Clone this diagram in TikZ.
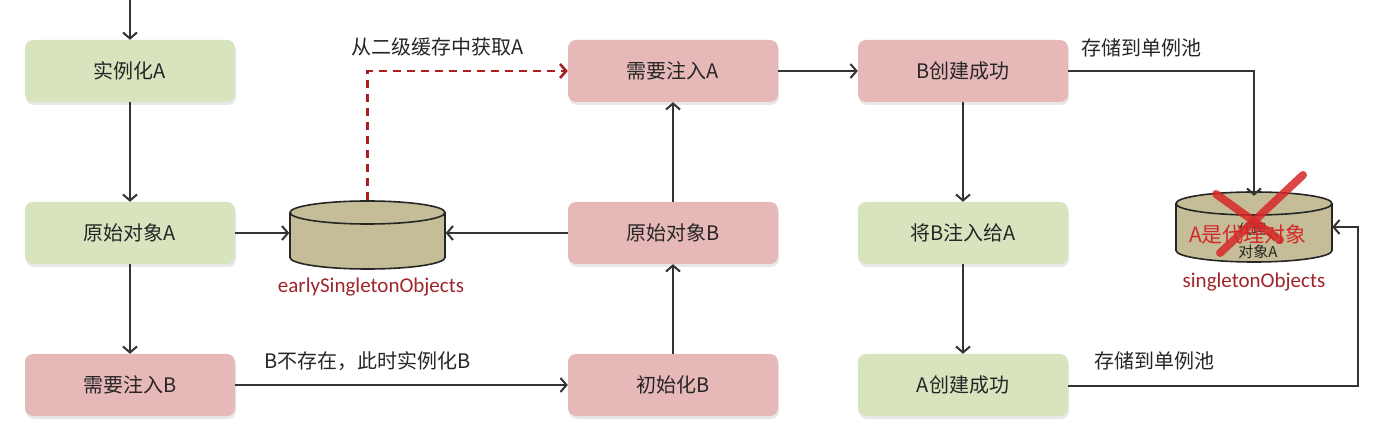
\documentclass[tikz,border=0pt]{standalone}
\usepackage{fontspec}
\setmainfont{Noto Sans CJK SC}
\newfontfamily\lblfont{Carlito}
\usetikzlibrary{arrows.meta,shadows}
\definecolor{boxgreen}{HTML}{D7E4BD}
\definecolor{boxpink}{HTML}{E6B9B8}
\definecolor{cyltan}{HTML}{C4BD97}
\definecolor{txt}{HTML}{262626}
\definecolor{arr}{HTML}{333333}
\definecolor{lblred}{HTML}{A0252A}
\definecolor{dashred}{HTML}{A82020}
\definecolor{xred}{HTML}{D62828}
\newcommand\mycyl[4]{% cx, half width, top ellipse y, bottom ellipse y
  \fill[cyltan] (#1-#2,#3) -- (#1-#2,#4) arc[start angle=180,end angle=0,x radius=#2,y radius=11.5] -- (#1+#2,#3) arc[start angle=0,end angle=-180,x radius=#2,y radius=11.5] -- cycle;
  \draw[cylline] (#1-#2,#3) -- (#1-#2,#4) arc[start angle=180,end angle=0,x radius=#2,y radius=11.5] -- (#1+#2,#3);
  \draw[cylline] (#1,#3) ellipse[x radius=#2,y radius=11.5];
}
\begin{document}
\begin{tikzpicture}[x=1pt,y=-1pt,
  box/.style={rectangle, rounded corners=8pt, minimum width=210pt, minimum height=62pt, inner sep=0pt, text=txt,
    font=\fontsize{20}{24}\selectfont, drop shadow={opacity=0.18, shadow xshift=1pt, shadow yshift=-3pt}},
  gbox/.style={box, fill=boxgreen},
  pbox/.style={box, fill=boxpink},
  cylbox/.style={rectangle, inner sep=0pt, minimum width=156pt, minimum height=70pt},
  cylline/.style={draw=black!85, line width=1.6pt},
  conn/.style={draw=arr, line width=2pt, -{Straight Barb[length=6pt,width=14pt]}},
  dconn/.style={draw=dashred, line width=2.6pt, dash pattern=on 8pt off 6pt, -{Straight Barb[length=6pt,width=14pt]}},
  lbl/.style={text=txt, font=\fontsize{20}{24}\selectfont, inner sep=0pt},
  redlbl/.style={text=lblred, font=\lblfont\fontsize{21}{24}\selectfont, inner sep=0pt}
]
\useasboundingbox (0,0) rectangle (1376,427);
\fill[white] (0,0) rectangle (1376,427);

% boxes
\node[gbox] (ia) at (130,71) {实例化A};
\node[gbox] (oa) at (130,233) {原始对象A};
\node[pbox] (nb) at (130,385) {需要注入B};
\node[pbox] (na) at (673,71) {需要注入A};
\node[pbox] (ob) at (673,233) {原始对象B};
\node[pbox] (ib) at (673,385) {初始化B};
\node[pbox] (bc) at (963,71) {B创建成功};
\node[gbox] (ba) at (963,233) {将B注入给A};
\node[gbox] (ac) at (963,385) {A创建成功};

% cylinders
\node[cylbox] (esc) at (367.5,235) {};
\mycyl{367.5}{77.5}{212.5}{257.5}
\node[redlbl] (escl) at (371,287) {earlySingletonObjects};

\node[cylbox] (sc) at (1254,227) {};
\mycyl{1254}{78}{203.5}{250.5}
\node[redlbl] (scl) at (1254,282) {singletonObjects};
\node[text=txt, font=\fontsize{14}{16}\selectfont, inner sep=0pt] (scin1) at (1252,229) {代理};
\node[text=txt, font=\fontsize{15}{17}\selectfont, inner sep=0pt] (scin2) at (1258,252) {对象A};
\draw[xred, opacity=0.85, line width=8pt, line cap=round] (1216,194) -- (1280,240);
\draw[xred, opacity=0.85, line width=8pt, line cap=round] (1303,175) -- (1220,253);
\node[text=xred, font=\fontsize{21}{24}\selectfont, inner sep=0pt] (scred) at (1248,235) {A是代理对象};

% labels
\node[lbl, anchor=west] (l1) at (351,47) {从二级缓存中获取A};
\node[lbl, anchor=west] (l2) at (264,361) {B不存在，此时实例化B};
\node[lbl, anchor=west] (l3) at (1081,48) {存储到单例池};
\node[lbl, anchor=west] (l4) at (1094,361) {存储到单例池};

% connectors
\coordinate (topin) at (130,0);
\draw[conn] (topin) -- (ia.north);
\draw[conn] (ia) -- (oa);
\draw[conn] (oa) -- (nb);
\draw[conn] (oa.east) -- (oa.east -| esc.west);
\draw[conn] (ob.west) -- (ob.west -| esc.east);
\draw[conn] (nb) -- (ib);
\draw[conn] (ib) -- (ob);
\draw[conn] (ob) -- (na);
\draw[dconn] (esc.north) -- (esc.north |- na.west) -- (na.west);
\draw[conn] (na) -- (bc);
\draw[conn] (bc.east) -- (bc.east -| sc.north) -- ([yshift=-4pt]sc.north);
\draw[conn] (bc) -- (ba);
\draw[conn] (ba) -- (ac);
\coordinate (rc) at (1358,386);
\draw[conn] (ac.east |- rc) -- (rc) -- (rc |- sc.east) -- (sc.east);
\end{tikzpicture}
\end{document}
